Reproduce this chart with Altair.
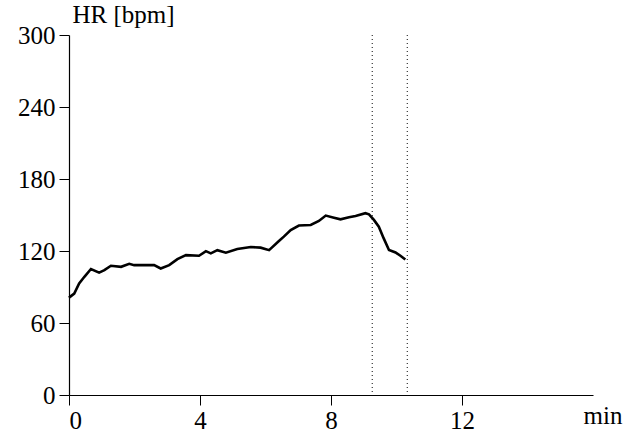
import altair as alt
import pandas as pd

t_min = [0.0, 0.04, 0.16, 0.31, 0.47, 0.67, 0.92, 1.08, 1.28, 1.59, 1.84, 1.99, 2.6, 2.8, 3.06, 3.31,
         3.57, 3.97, 4.18, 4.33, 4.53, 4.79, 5.14, 5.55, 5.85, 6.11, 6.41, 6.56, 6.77, 7.02, 7.38,
         7.63, 7.84, 8.09, 8.29, 8.55, 8.75, 9.05, 9.16, 9.31, 9.46, 9.61, 9.77, 9.97, 10.12, 10.27]
hr_bpm = [81, 82, 84.5, 93, 98.5, 105, 102, 104, 107.7, 106.8, 109.3, 108.2, 108.2, 105.4, 108.2, 113.2,
          116.6, 116, 119.9, 118, 120.7, 118.6, 121.6, 123.3, 122.8, 120.7, 128.3, 132, 137.5, 141.2, 141.7,
          145, 149.5, 147.8, 146.4, 148.1, 149.2, 151.5, 150.6, 145.9, 140.3, 130.5, 120.8, 118.8, 116, 112.9]
markers_min = [9.26, 10.33]

x_ticks = [0, 4, 8, 12]
y_ticks = [0, 60, 120, 180, 240, 300]

df = pd.DataFrame({"t": t_min, "hr": hr_bpm})
dm = pd.DataFrame({"t": markers_min})

FONT = "'Liberation Serif', 'Times New Roman', Times, serif"
FS = 25

x_scale = alt.Scale(domain=[0, 16], nice=False, zero=False)
y_scale = alt.Scale(domain=[0, 300], nice=False)

line = alt.Chart(df).mark_line(color="black", strokeWidth=2.6, interpolate="linear").encode(
    x=alt.X("t:Q", scale=x_scale,
            axis=alt.Axis(values=x_ticks, title="min", titleAngle=0, titleAlign="left",
                          titleBaseline="alphabetic", titleX=514, titleY=28,
                          labelPadding=3, tickSize=10)),
    y=alt.Y("hr:Q", scale=y_scale,
            axis=alt.Axis(values=y_ticks, title="HR [bpm]", titleAngle=0, titleAlign="left",
                          titleBaseline="alphabetic", titleX=3, titleY=-13,
                          labelPadding=4, tickSize=10)),
)

rules = alt.Chart(dm).mark_rule(color="#333333", strokeWidth=1.2, strokeDash=[1, 3]).encode(
    x=alt.X("t:Q", scale=x_scale)
)

chart = alt.layer(rules, line).properties(
    width=524, height=360,
    autosize=alt.AutoSizeParams(type="none"),
    padding={"left": 69, "top": 35, "right": 32, "bottom": 41},
    background="white",
).configure_view(stroke=None).configure_axis(
    labelFont=FONT, labelFontSize=FS, titleFont=FONT, titleFontSize=FS,
    titleFontWeight="normal", grid=False, domainColor="black", tickColor="black",
    labelColor="black", titleColor="black", domainWidth=1.2, tickWidth=1,
)

chart.save("out.html", embed_options={"renderer": "svg", "actions": False})
